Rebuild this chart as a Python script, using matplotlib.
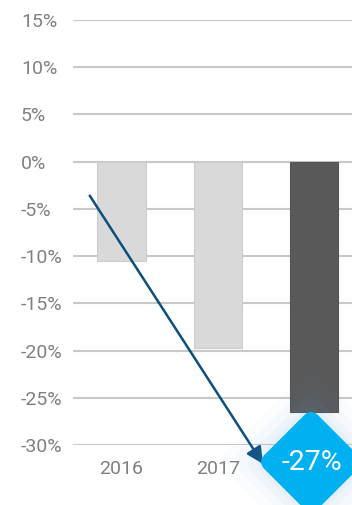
import matplotlib
matplotlib.use("Agg")
import matplotlib.pyplot as plt
from matplotlib.patches import FancyBboxPatch
from matplotlib.transforms import Affine2D

# data
years = ["2016", "2017", "2018"]
values = [-10.5, -19.7, -26.5]
bar_colors = ["#d9d9d9", "#d9d9d9", "#595959"]
yticks = [15, 10, 5, 0, -5, -10, -15, -20, -25, -30]
badge_text = "-27%"

plt.rcParams['font.family'] = ['Roboto', 'DejaVu Sans']

W, H = 352, 505
fig = plt.figure(figsize=(W / 100, H / 100), dpi=100)
# axes from x=73..352 px, y=20..445 px (top-down)
ax = fig.add_axes([73 / W, 1 - 445 / H, (352 - 73) / W, (445 - 20) / H])

x = list(range(len(years)))
ax.bar(x, values, width=0.5, color=bar_colors, edgecolor=["#cccccc", "#cccccc", "#555555"],
       linewidth=0.8, zorder=3)

ax.set_xlim(-0.504, 2.395)
ax.set_ylim(-30, 15)
ax.set_yticks(yticks)
ax.set_yticklabels([f"{v}%" for v in yticks], ha="left")
ax.set_xticks(x)
ax.set_xticklabels(years)
ax.get_xticklabels()[-1].set_visible(False)  # covered by the badge
ax.tick_params(axis='y', length=0, pad=37.4, labelsize=14, labelcolor="#808080")
ax.tick_params(axis='x', length=0, pad=11, labelsize=14, labelcolor="#808080")
ax.grid(axis='y', color="#c8c8c8", linewidth=1.5, zorder=0)
for s in ax.spines.values():
    s.set_visible(False)

# arrow
ax.annotate("", xy=(1.47, -32.0), xytext=(-0.33, -3.6),
            arrowprops=dict(arrowstyle="-|>,head_length=1.0,head_width=0.5",
                            color="#0b4f7c", lw=1.8, shrinkA=0, shrinkB=0),
            annotation_clip=False, zorder=5)

# badge diamond (display coords)
cx, cy = ax.transData.transform((1.97, -31.8))
for side, alpha in [(135, 0.025), (115, 0.035), (98, 0.045), (85, 0.05)]:
    glow = FancyBboxPatch((-side / 2, -side / 2), side, side,
                          boxstyle="round,pad=0,rounding_size=16",
                          transform=Affine2D().rotate_deg(45).translate(cx, cy),
                          facecolor="#5aa6d6", edgecolor="none", alpha=alpha, zorder=6)
    fig.patches.append(glow)
side = 76
badge = FancyBboxPatch((-side / 2, -side / 2), side, side,
                       boxstyle="round,pad=0,rounding_size=10",
                       transform=Affine2D().rotate_deg(45).translate(cx, cy),
                       facecolor="#00b0f0", edgecolor="none", zorder=7)
fig.patches.append(badge)
fig.text((cx + 1) / W, cy / H, badge_text, color="white", fontsize=20.5,
         ha="center", va="center", zorder=8)

fig.savefig("out.png", dpi=100, facecolor="white")
